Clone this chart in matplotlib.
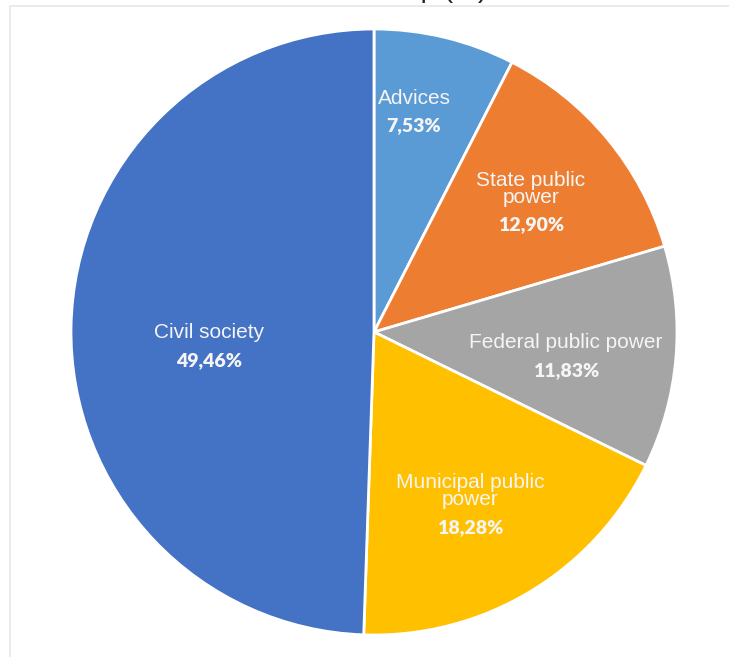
import matplotlib
matplotlib.use("Agg")
import matplotlib.pyplot as plt
from matplotlib.patches import Rectangle

# data
groups = ["Advices", "State public\npower", "Federal public power",
          "Municipal public\npower", "Civil society"]
shares = [7.53, 12.90, 11.83, 18.28, 49.46]
pct_labels = ["7,53%", "12,90%", "11,83%", "18,28%", "49,46%"]
colors = ["#5B9BD5", "#ED7D31", "#A5A5A5", "#FFC000", "#4472C4"]

W, H = 729, 657
cx, cy, R = 374, 332, 303  # pie centre / radius in pixels

fig = plt.figure(figsize=(W / 100, H / 100), dpi=100)
fig.patch.set_facecolor("white")

# light frame of the chart area (only top/left edges visible)
fig.patches.append(Rectangle((10 / W, -0.1), 1.2, (H - 6) / H + 0.1,
                             transform=fig.transFigure, fill=False,
                             edgecolor="#E6E6E6", linewidth=1.2))

# clipped title at the very top
fig.text(487 / W, 1.0 + 3 / H, "Group (%)", ha="right", va="baseline",
         fontsize=20, family="Liberation Sans", color="#222222")

ax = fig.add_axes([0, 0, 1, 1])
ax.pie(shares, colors=colors, startangle=90, counterclock=False, radius=1,
       wedgeprops=dict(edgecolor="white", linewidth=2))
ax.set_xlim(-cx / R, (W - cx) / R)
ax.set_ylim((cy - H) / R, cy / R)
ax.set_aspect("auto")
ax.axis("off")

# label spots (pixels): name centre, pct centre
spots = [((414, 98), (414, 126)),
         ((531, 189), (531, 225)),
         ((566, 343), (566, 371)),
         ((470, 491), (470, 528)),
         ((209, 332), (209, 361))]

def px(p):
    return ((p[0] - cx) / R, (cy - p[1]) / R)

for name, pct, (a, b) in zip(groups, pct_labels, spots):
    x, y = px(a)
    ax.text(x, y, name, ha="center", va="center", fontsize=15,
            family="Liberation Sans", color="#F5F5F5", linespacing=0.85)
    x, y = px(b)
    ax.text(x, y, pct, ha="center", va="center", fontsize=14,
            family="Lato", fontweight="heavy", color="#F5F5F5")

fig.savefig("out.png", dpi=100, facecolor="white")
